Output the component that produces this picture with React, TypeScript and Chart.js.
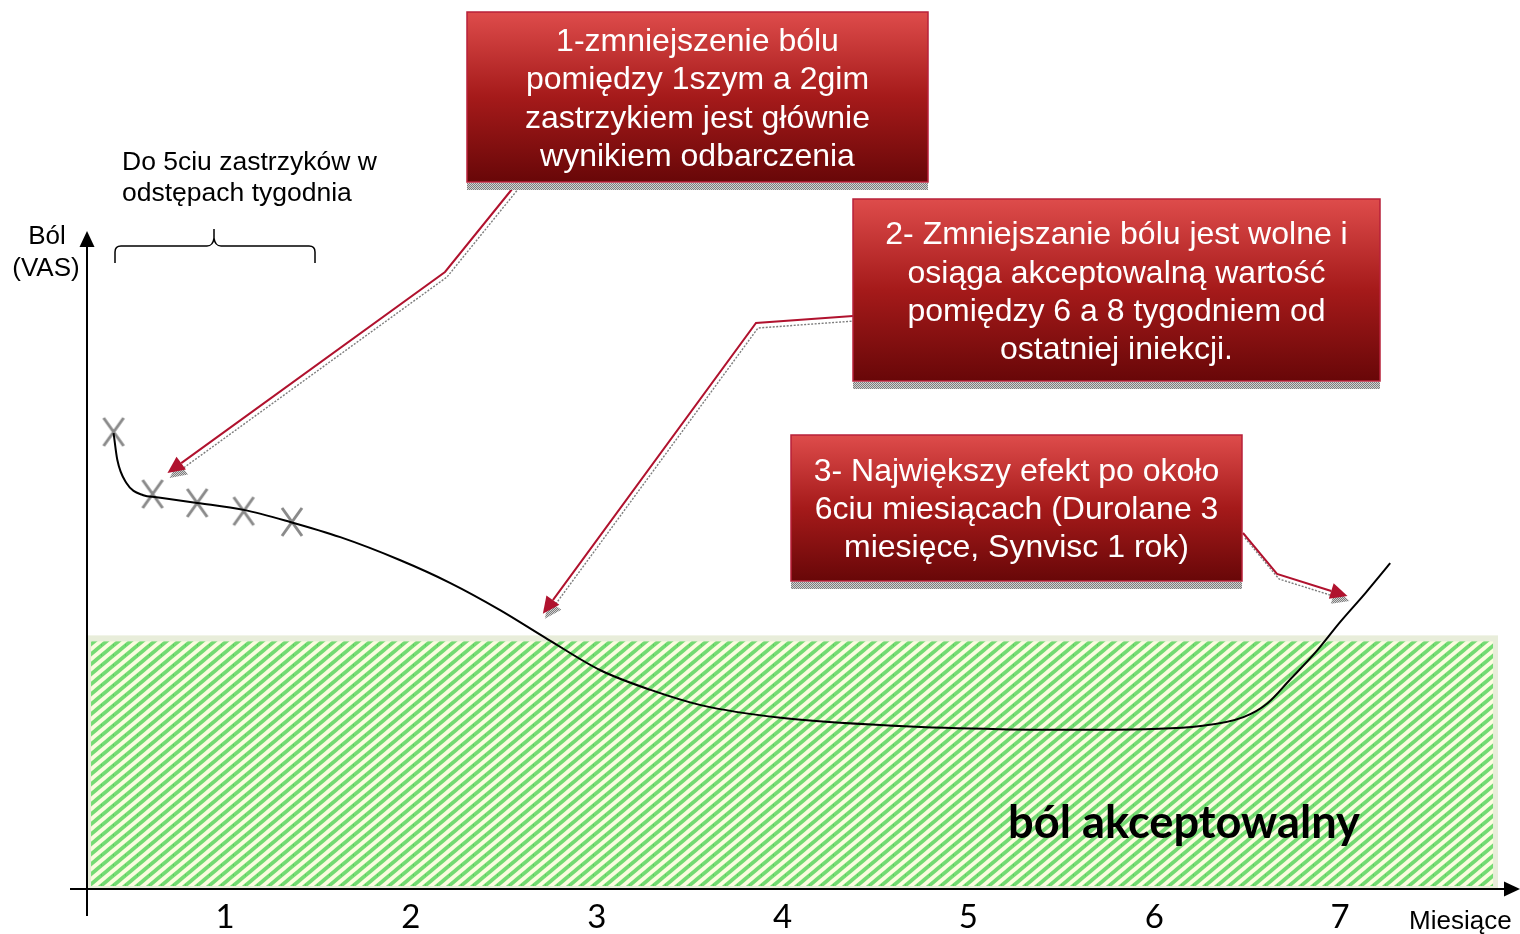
import React, { useEffect, useRef } from "react";
import { Chart, registerables } from "chart.js";

Chart.register(...registerables);

// ---------------- data ----------------
const monthTicks: number[] = [1, 2, 3, 4, 5, 6, 7];

const painCurveMonths: number[] = [
  0.4, 0.42, 0.47, 0.56, 0.63, 0.85, 1.1, 1.35, 1.62, 1.94, 2.21, 2.48, 2.72, 3.02,
  3.29, 3.56, 3.99, 4.63, 5.17, 5.71, 6.25, 6.48, 6.61, 6.73, 6.87, 7.0, 7.14, 7.27,
];
const painCurveVAS: number[] = [
  7.19, 6.77, 6.4, 6.21, 6.18, 6.09, 5.98, 5.79, 5.55, 5.19, 4.83, 4.4, 3.97, 3.45,
  3.14, 2.9, 2.7, 2.57, 2.52, 2.51, 2.57, 2.71, 2.93, 3.3, 3.74, 4.21, 4.68, 5.14,
];

const injectionMonths: number[] = [0.4, 0.61, 0.85, 1.1, 1.36];
const injectionVAS: number[] = [7.21, 6.23, 6.09, 5.96, 5.79];

const acceptablePainMax = 4;
const acceptableMonthSpan: number[] = [0.252, 7.85];

const callout1Lines: string[] = [
  "1-zmniejszenie bólu",
  "pomiędzy 1szym a 2gim",
  "zastrzykiem jest głównie",
  "wynikiem odbarczenia",
];
const callout2Lines: string[] = [
  "2- Zmniejszanie bólu jest wolne i",
  "osiąga akceptowalną wartość",
  "pomiędzy 6 a 8 tygodniem od",
  "ostatniej iniekcji.",
];
const callout3Lines: string[] = [
  "3- Największy efekt po około",
  "6ciu miesiącach (Durolane 3",
  "miesięce, Synvisc 1 rok)",
];
const calloutTargetMonths: number[] = [0.69, 2.71, 7.04];
const calloutTargetVAS: number[] = [6.56, 4.34, 4.62];

const injectionNoteLines: string[] = ["Do 5ciu zastrzyków w", "odstępach tygodnia"];
const yAxisTitleLines: string[] = ["Ból", "(VAS)"];
const xAxisTitle = "Miesiące";
const zoneLabel = "ból akceptowalny";

// ---------------- layout (pixels) ----------------
const W = 1520;
const H = 934;
const X_MIN = 0.257;
const X_MAX = 7.5;
const PX_PER_MONTH = 185.83;
const PLOT_LEFT = 87;
const PLOT_BOTTOM = 889;
const PLOT_TOP = 255;

const calloutBoxes = [
  { left: 467, top: 12, right: 928, bottom: 182, lineY: [41, 79, 118, 156], from: [517, 183], elbow: [445, 272] },
  { left: 853, top: 199, right: 1380, bottom: 381, lineY: [234, 273, 311, 349], from: [853, 316], elbow: [756, 323] },
  { left: 791, top: 435, right: 1242, bottom: 581, lineY: [471, 509, 547], from: [1243, 533], elbow: [1277, 574] },
];

const ARIAL = '"Liberation Sans", Arial, sans-serif';
const CALIBRI = 'Lato, "Open Sans", sans-serif';

function makeStripePattern(ctx: CanvasRenderingContext2D) {
  const c = document.createElement("canvas");
  const w = 12;
  const h = 10;
  c.width = w;
  c.height = h;
  const g = c.getContext("2d")!;
  g.fillStyle = "#FBFCDF";
  g.fillRect(0, 0, w, h);
  g.strokeStyle = "#74DB73";
  g.lineWidth = 3.7;
  for (let k = -1; k <= 1; k++) {
    g.beginPath();
    g.moveTo(-w, h + k * h + h);
    g.lineTo(2 * w, k * h - h);
    g.stroke();
  }
  g.fillStyle = "rgba(40,190,40,0.35)";
  g.fillRect(5, 4, 1, 2);
  return ctx.createPattern(c, "repeat")!;
}

function makeShadowPattern(ctx: CanvasRenderingContext2D) {
  const c = document.createElement("canvas");
  c.width = 4;
  c.height = 4;
  const g = c.getContext("2d")!;
  g.fillStyle = "#D2D2D2";
  g.fillRect(0, 0, 4, 4);
  g.fillStyle = "#7C7C7C";
  for (let i = 0; i < 4; i++)
    for (let j = 0; j < 4; j++) if ((i + j) % 2 === 0) g.fillRect(i, j, 1, 1);
  return ctx.createPattern(c, "repeat")!;
}

function makeCrossImage() {
  const c = document.createElement("canvas");
  c.width = 26;
  c.height = 32;
  const g = c.getContext("2d")!;
  g.strokeStyle = "#8A8A8A";
  g.lineWidth = 3;
  g.beginPath();
  g.moveTo(3, 2);
  g.lineTo(23, 30);
  g.moveTo(23, 2);
  g.lineTo(3, 30);
  g.stroke();
  return c;
}

function arrowHead(ctx: CanvasRenderingContext2D, from: number[], tip: number[], len: number, half: number) {
  const dx = tip[0] - from[0];
  const dy = tip[1] - from[1];
  const d = Math.hypot(dx, dy);
  const ux = dx / d;
  const uy = dy / d;
  const bx = tip[0] - ux * len;
  const by = tip[1] - uy * len;
  ctx.beginPath();
  ctx.moveTo(tip[0], tip[1]);
  ctx.lineTo(bx - uy * half, by + ux * half);
  ctx.lineTo(bx + uy * half, by - ux * half);
  ctx.closePath();
  ctx.fill();
  return [bx, by];
}

export default function App() {
  const ref = useRef<HTMLCanvasElement>(null);

  useEffect(() => {
    const canvas = ref.current!;
    const ctx0 = canvas.getContext("2d")!;
    const stripe = makeStripePattern(ctx0);
    const shadow = makeShadowPattern(ctx0);
    const cross = makeCrossImage();

    const plotRight = PLOT_LEFT + (X_MAX - X_MIN) * PX_PER_MONTH;

    const overlay = {
      id: "overlay",
      beforeDatasetsDraw(chart: any) {
        const { ctx } = chart;
        const x = chart.scales.x;
        const y = chart.scales.y;
        const l = x.getPixelForValue(acceptableMonthSpan[0]);
        const r = x.getPixelForValue(acceptableMonthSpan[1]);
        const t = y.getPixelForValue(acceptablePainMax);
        const b = y.getPixelForValue(0);
        ctx.save();
        ctx.fillStyle = "#E8EDDA";
        ctx.fillRect(l, t, r - l, b - t);
        ctx.fillStyle = stripe;
        ctx.fillRect(l + 5, t + 6, r - l - 10, b - t - 9);
        ctx.fillStyle = "#000";
        let size = 44;
        ctx.font = `bold ${size}px ${CALIBRI}`;
        const m = ctx.measureText(zoneLabel).width;
        size = (size * 352) / m;
        ctx.font = `bold ${size}px ${CALIBRI}`;
        ctx.textAlign = "center";
        ctx.textBaseline = "alphabetic";
        ctx.fillText(zoneLabel, 1184, 838);
        ctx.restore();
      },
      afterDraw(chart: any) {
        const { ctx } = chart;
        const x = chart.scales.x;
        const y = chart.scales.y;
        const ox = x.getPixelForValue(X_MIN);
        const oy = y.getPixelForValue(0);
        ctx.save();

        // axes
        ctx.strokeStyle = "#000";
        ctx.fillStyle = "#000";
        ctx.lineWidth = 2;
        ctx.beginPath();
        ctx.moveTo(ox, 916);
        ctx.lineTo(ox, 244);
        ctx.moveTo(70, oy);
        ctx.lineTo(1507, oy);
        ctx.stroke();
        arrowHead(ctx, [ox, 300], [ox, 231], 16, 7.5);
        arrowHead(ctx, [1400, oy], [1520, oy], 16, 7.5);

        // tick labels
        ctx.font = `33px ${CALIBRI}`;
        ctx.textAlign = "center";
        ctx.textBaseline = "middle";
        monthTicks.forEach((t) => {
          ctx.fillText(String(t), x.getPixelForValue(t), 917);
        });

        // axis titles
        ctx.font = `26px ${ARIAL}`;
        ctx.fillText(yAxisTitleLines[0], 47, 237);
        ctx.fillText(yAxisTitleLines[1], 46, 269);
        ctx.textAlign = "left";
        ctx.fillText(xAxisTitle, 1409, 922);
        ctx.font = `26.5px ${ARIAL}`;
        injectionNoteLines.forEach((s, i) => ctx.fillText(s, 122, 163 + i * 31));

        // brace
        ctx.lineWidth = 1.5;
        ctx.beginPath();
        ctx.moveTo(115, 263);
        ctx.lineTo(115, 252);
        ctx.quadraticCurveTo(115, 246, 121, 246);
        ctx.lineTo(207, 246);
        ctx.quadraticCurveTo(213, 246, 214, 238);
        ctx.lineTo(214, 229);
        ctx.moveTo(214, 238);
        ctx.quadraticCurveTo(215, 246, 221, 246);
        ctx.lineTo(309, 246);
        ctx.quadraticCurveTo(315, 246, 315, 252);
        ctx.lineTo(315, 263);
        ctx.stroke();

        // arrows
        const lists = [callout1Lines, callout2Lines, callout3Lines];
        calloutBoxes.forEach((b, i) => {
          const tip = [x.getPixelForValue(calloutTargetMonths[i]), y.getPixelForValue(calloutTargetVAS[i])];
          const pts = [b.from, b.elbow, tip];
          ctx.save();
          ctx.translate(2, 5);
          ctx.fillStyle = shadow;
          const sb = arrowHead(ctx, pts[1], pts[2], 17, 8);
          ctx.strokeStyle = "#7D7D7D";
          ctx.lineWidth = 1.4;
          ctx.setLineDash([2, 1.5]);
          ctx.beginPath();
          ctx.moveTo(pts[0][0], pts[0][1]);
          ctx.lineTo(pts[1][0], pts[1][1]);
          ctx.lineTo(sb[0], sb[1]);
          ctx.stroke();
          ctx.restore();
          ctx.fillStyle = "#B0122E";
          const rb = arrowHead(ctx, pts[1], pts[2], 17, 8);
          ctx.strokeStyle = "#B0122E";
          ctx.lineWidth = 2;
          ctx.beginPath();
          ctx.moveTo(pts[0][0], pts[0][1]);
          ctx.lineTo(pts[1][0], pts[1][1]);
          ctx.lineTo(rb[0], rb[1]);
          ctx.stroke();
        });

        // boxes
        calloutBoxes.forEach((b, i) => {
          const w = b.right - b.left;
          const h = b.bottom - b.top;
          const g = ctx.createLinearGradient(0, b.top, 0, b.bottom);
          g.addColorStop(0, "#DE4C4B");
          g.addColorStop(0.5, "#A51A1A");
          g.addColorStop(1, "#680708");
          ctx.fillStyle = g;
          ctx.fillRect(b.left, b.top, w, h);
          ctx.strokeStyle = "#B8203A";
          ctx.lineWidth = 1.5;
          ctx.strokeRect(b.left, b.top, w, h);
          ctx.fillStyle = shadow;
          ctx.fillRect(b.left, b.bottom + 1, w, 7);
          ctx.fillStyle = "#FFFFFF";
          ctx.font = `32px ${ARIAL}`;
          ctx.textAlign = "center";
          ctx.textBaseline = "middle";
          lists[i].forEach((s, k) => ctx.fillText(s, (b.left + b.right) / 2, b.lineY[k] + 1));
        });

        ctx.restore();
      },
    };

    const chart = new Chart(canvas, {
      type: "line",
      data: {
        datasets: [
          {
            label: "ból",
            data: painCurveMonths.map((m, i) => ({ x: m, y: painCurveVAS[i] })),
            borderColor: "#000",
            borderWidth: 2,
            pointRadius: 0,
            cubicInterpolationMode: "monotone",
            fill: false,
          },
          {
            type: "scatter",
            label: "zastrzyki",
            data: injectionMonths.map((m, i) => ({ x: m, y: injectionVAS[i] })),
            pointStyle: cross as any,
            pointRadius: 13,
            showLine: false,
          } as any,
        ],
      },
      options: {
        responsive: false,
        animation: false,
        devicePixelRatio: 1,
        layout: {
          padding: { left: PLOT_LEFT, right: W - plotRight, top: PLOT_TOP, bottom: H - PLOT_BOTTOM },
        },
        scales: {
          x: { type: "linear", min: X_MIN, max: X_MAX, display: false },
          y: { type: "linear", min: 0, max: 10, display: false },
        },
        plugins: { legend: { display: false }, tooltip: { enabled: false } },
        events: [],
      } as any,
      plugins: [overlay],
    });
    return () => chart.destroy();
  }, []);

  return (
    <div style={{ position: "fixed", left: 0, top: 0, width: W, height: H, background: "#fff" }}>
      <canvas ref={ref} width={W} height={H} style={{ display: "block", width: W, height: H }} />
    </div>
  );
}
